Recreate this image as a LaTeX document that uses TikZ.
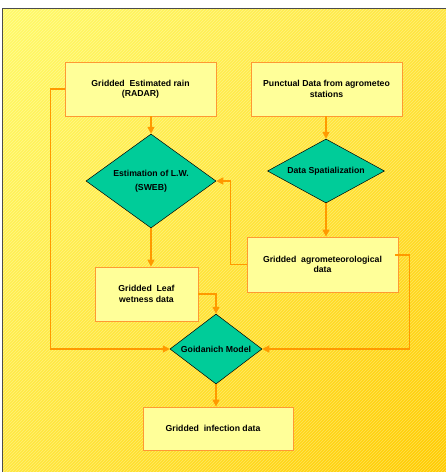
\documentclass[tikz,border=0pt]{standalone}
\usepackage{fontspec}
\setmainfont{Liberation Sans}
\usetikzlibrary{shapes.geometric,arrows.meta,patterns,shadings}
\definecolor{conncol}{HTML}{FF9900}
\definecolor{boxfill}{HTML}{FFFF99}
\definecolor{boxline}{HTML}{FF9933}
\definecolor{teal}{HTML}{00CC99}
\definecolor{bgtl}{HTML}{FFFA6A}
\definecolor{bgtr}{HTML}{FFE640}
\definecolor{bgbl}{HTML}{FFE840}
\definecolor{bgbr}{HTML}{FFCC00}
\newcommand{\zw}[1]{\makebox[0pt]{#1}}
\tikzset{
  x=1pt, y=-1pt,
  databox/.style={draw=boxline, line width=0.8pt, fill=boxfill, inner sep=0pt,
    align=center, font=\fontsize{8.7}{10.5}\selectfont\bfseries},
  decision/.style={draw=black, line width=0.5pt, fill=teal, shape=diamond, inner sep=0pt,
    aspect=1.4, align=center, font=\fontsize{8.7}{14}\selectfont\bfseries},
  conn/.style={draw=conncol, line width=1.4pt,
    -{Triangle[length=7pt,width=7pt,fill=conncol]}},
}
\begin{document}
\begin{tikzpicture}
\useasboundingbox (0,0) rectangle (446,472);
\fill[white] (0,0) rectangle (446,472);
\shade[upper left=bgtl, upper right=bgtr, lower left=bgbl, lower right=bgbr] (2,8) rectangle (446,472);
\fill[pattern=north east lines, pattern color=white, opacity=0.3] (2,8) rectangle (446,472);
\draw[line width=1.5pt, black!70] (2.5,472) -- (2.5,8.5) -- (446,8.5);

\node[databox, minimum width=151pt, minimum height=54pt] (radar) at (140.5,89) {Gridded\ \ Estimated rain\\(RADAR)};
\node[databox, minimum width=151pt, minimum height=54pt] (punct) at (326.5,89) {Punctual Data from agrometeo\\stations};
\node[decision, minimum width=130pt, minimum height=94pt] (lw) at (151,181) {\zw{Estimation of L.W.}\\\zw{(SWEB)}};
\node[decision, minimum width=117pt, minimum height=64pt] (spat) at (326,171) {\zw{Data Spatialization}};
\node[databox, minimum width=151pt, minimum height=55pt] (agro) at (322.5,264.5) {Gridded\ \ agrometeorological\\data};
\node[databox, minimum width=103pt, minimum height=54pt] (leaf) at (146.5,294) {Gridded\ \ Leaf\\wetness data};
\node[decision, minimum width=92pt, minimum height=70pt] (goid) at (216,349) {\zw{Goidanich Model}};
\node[databox, minimum width=150pt, minimum height=43pt] (inf) at (218,428.5) {\hspace*{-10pt}Gridded\ \ infection data};

\draw[conn] (radar.south -| lw.north) -- (lw.north);
\draw[conn] (punct.south -| spat.north) -- (spat.north);
\draw[conn] (spat.south) -- (agro.north -| spat.south);
\draw[conn] (lw.south) -- (leaf.north -| lw.south);
\draw[conn] (goid.south) -- (inf.north -| goid.south);
\draw[conn] (radar.west) -- ++(-14,0) |- (goid.west);
\draw[conn] (agro.west) -- ++(-16,0) |- (lw.east);
\draw[conn] ([xshift=-3pt,yshift=9.5pt]agro.east) -- ++(14,0) |- (goid.east);
\draw[conn] (leaf.east) -| (goid.north);
\end{tikzpicture}
\end{document}
